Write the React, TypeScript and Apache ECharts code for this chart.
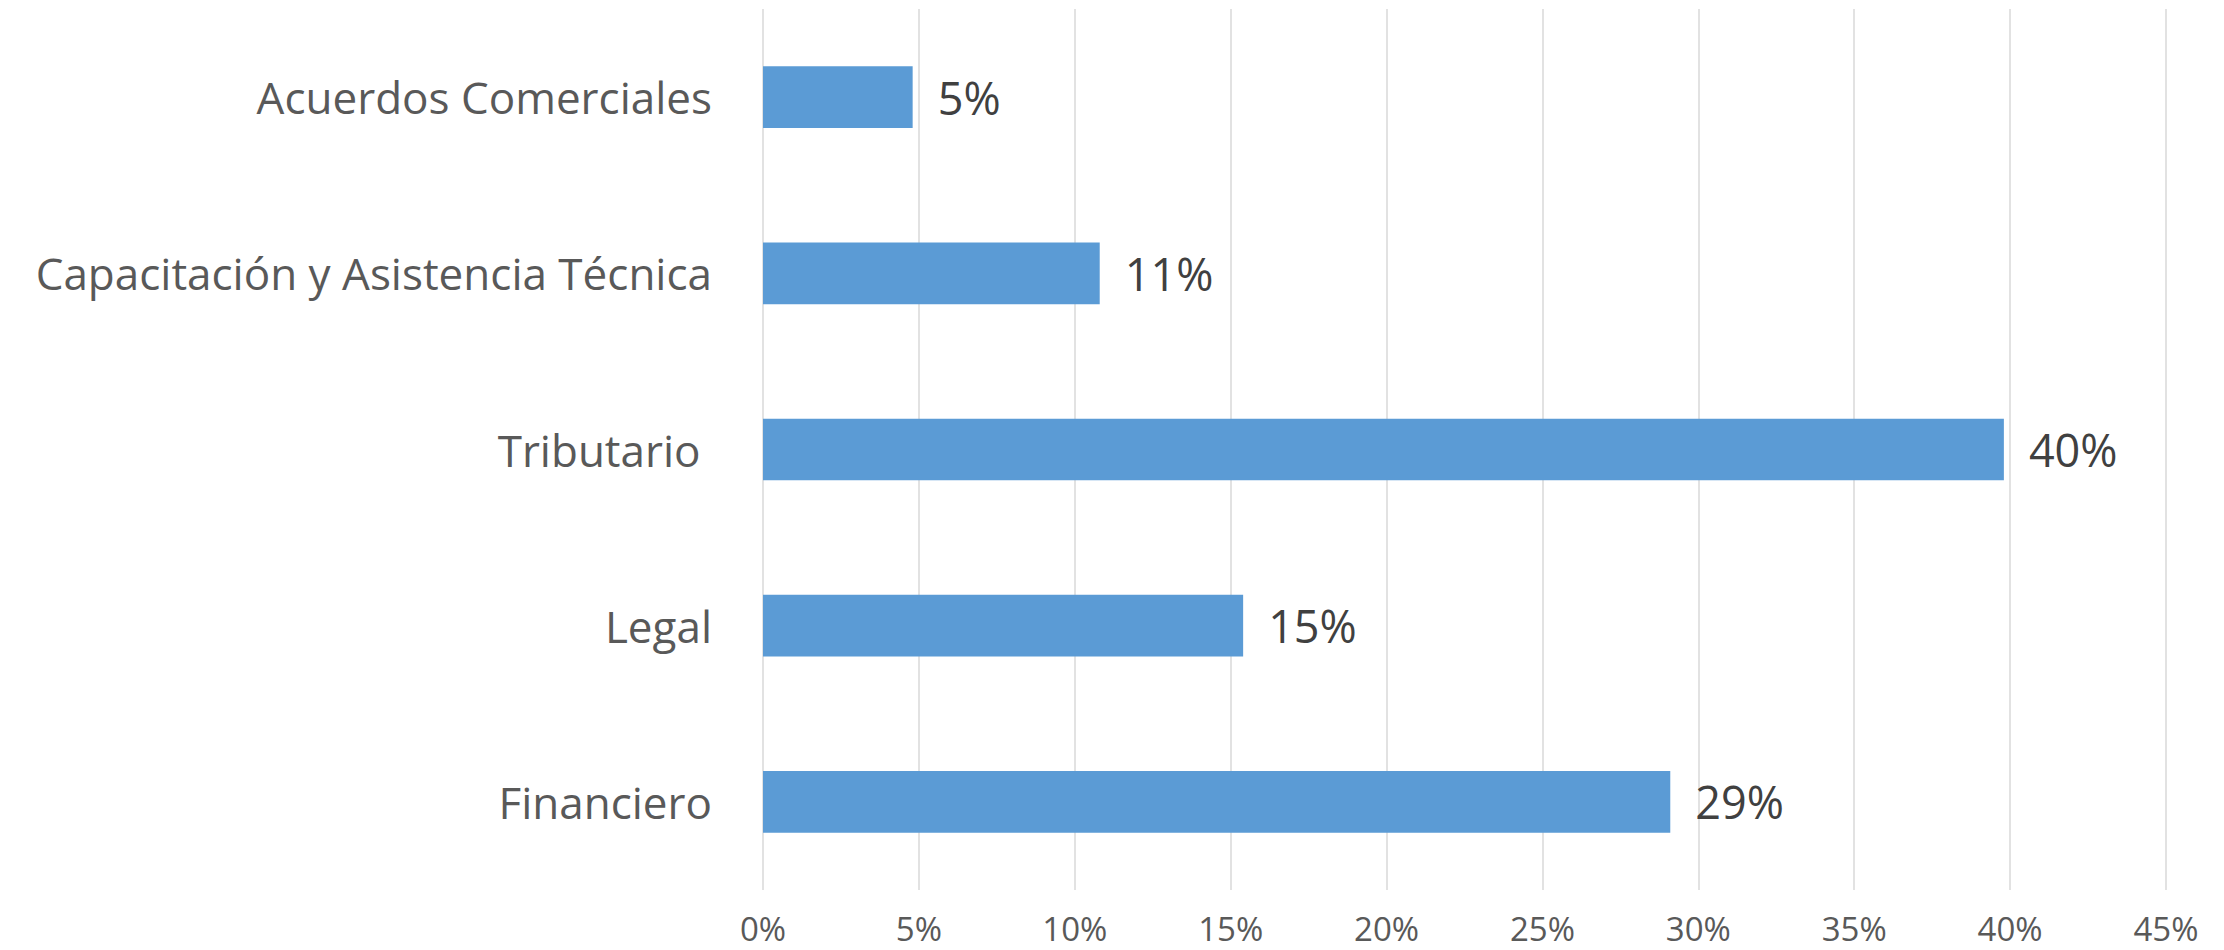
import React, { useEffect, useRef } from "react";
import * as echarts from "echarts";

const categories = [
  "Acuerdos Comerciales",
  "Capacitación y Asistencia Técnica",
  "Tributario ",
  "Legal",
  "Financiero",
];
const values = [4.8, 10.8, 39.8, 15.4, 29.1];
const axisMin = 0;
const axisMax = 45;
const axisStep = 5;

export default function App() {
  const ref = useRef<HTMLDivElement>(null);
  useEffect(() => {
    document.body.style.margin = "0";
    const chart = echarts.init(ref.current!, null, { renderer: "svg" });
    chart.setOption({
      animation: false,
      backgroundColor: "#ffffff",
      textStyle: { fontFamily: "Open Sans" },
      grid: { left: 763, right: 58, top: 9, bottom: 60, containLabel: false },
      xAxis: {
        type: "value",
        min: axisMin,
        max: axisMax,
        interval: axisStep,
        axisLine: { show: false },
        axisTick: { show: false },
        axisLabel: {
          formatter: "{value}%",
          color: "#595959",
          fontSize: 33,
          fontFamily: "Open Sans",
          margin: 20,
          lineHeight: 36,
        },
        splitLine: { show: true, lineStyle: { color: "#d9d9d9", width: 1.5 } },
      },
      yAxis: {
        type: "category",
        data: categories,
        inverse: true,
        axisLine: { show: false },
        axisTick: { show: false },
        axisLabel: {
          color: "#595959",
          fontSize: 44,
          fontFamily: "Open Sans",
          margin: 51,
        },
        splitLine: { show: false },
      },
      series: [
        {
          type: "bar",
          data: values,
          barWidth: "35%",
          itemStyle: { color: "#5b9bd5" },
          label: {
            show: true,
            position: "right",
            distance: 25,
            color: "#404040",
            fontSize: 45,
            fontFamily: "Open Sans",
            formatter: (p: any) => Math.round(p.value) + "%",
          },
        },
      ],
    });
    return () => chart.dispose();
  }, []);
  return <div ref={ref} style={{ width: 2224, height: 950 }} />;
}
